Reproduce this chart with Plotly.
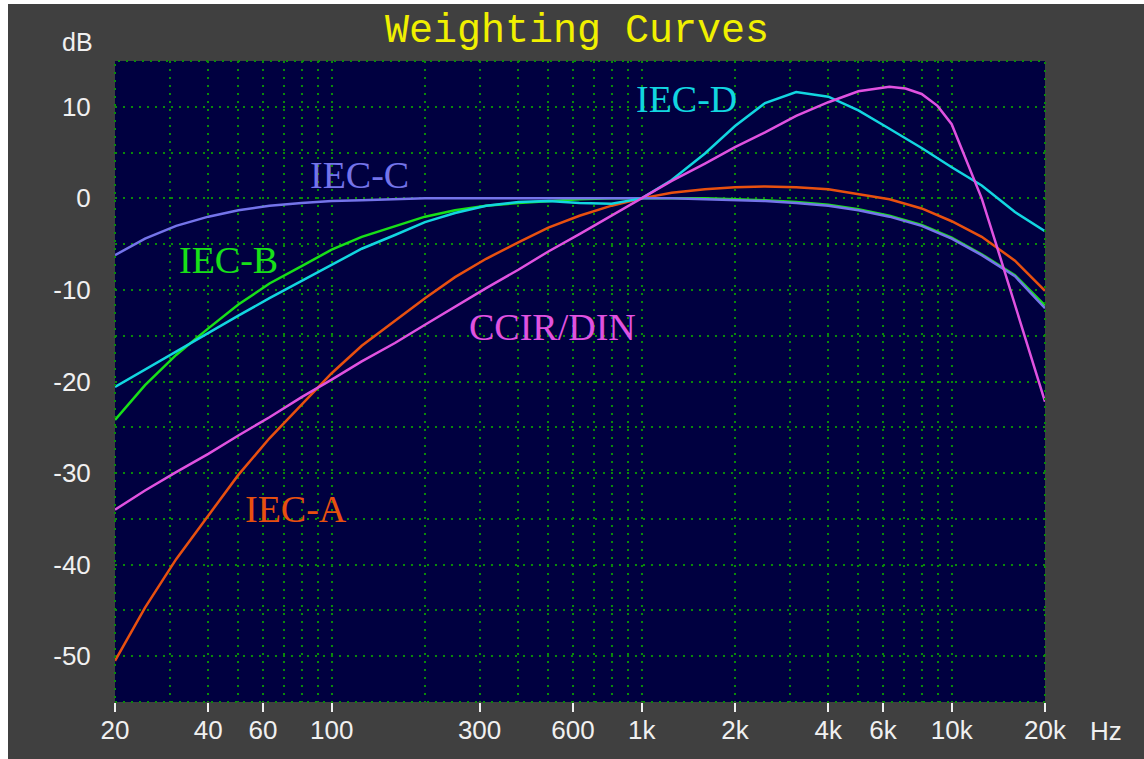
import math
import plotly.graph_objects as go

# ---------------- data ----------------
freq = [20, 25, 31.5, 40, 50, 63, 80, 100, 125, 160, 200, 250, 315, 400, 500,
        630, 800, 1000, 1250, 1600, 2000, 2500, 3150, 4000, 5000, 6300, 8000,
        10000, 12500, 16000, 20000]

iec_a = [-50.5, -44.7, -39.4, -34.6, -30.2, -26.2, -22.5, -19.1, -16.1, -13.4,
         -10.9, -8.6, -6.6, -4.8, -3.2, -1.9, -0.8, 0.0, 0.6, 1.0, 1.2, 1.3,
         1.2, 1.0, 0.5, -0.1, -1.1, -2.5, -4.2, -6.8, -10.1]

iec_b = [-24.2, -20.4, -17.1, -14.2, -11.6, -9.3, -7.4, -5.6, -4.2, -3.0,
         -2.0, -1.3, -0.8, -0.5, -0.3, -0.1, 0.0, 0.0, 0.0, 0.0, -0.1, -0.2,
         -0.4, -0.7, -1.2, -1.9, -2.9, -4.3, -6.1, -8.4, -11.7]

iec_c = [-6.2, -4.4, -3.0, -2.0, -1.3, -0.8, -0.5, -0.3, -0.2, -0.1,
         0.0, 0.0, 0.0, 0.0, 0.0, 0.0, 0.0, 0.0, 0.0, -0.1, -0.2, -0.3,
         -0.5, -0.8, -1.3, -2.0, -3.0, -4.4, -6.2, -8.5, -12.0]

iec_d = [-20.6, -18.7, -16.7, -14.7, -12.8, -10.9, -9.0, -7.2, -5.5, -4.0,
         -2.6, -1.6, -0.8, -0.4, -0.3, -0.5, -0.6, 0.0, 2.0, 4.9, 7.9, 10.4,
         11.6, 11.1, 9.6, 7.6, 5.5, 3.4, 1.4, -1.5, -3.6]

freq_ccir = [20, 25, 31.5, 40, 50, 63, 80, 100, 125, 160, 200, 250, 315, 400,
             500, 630, 800, 1000, 1250, 1600, 2000, 2500, 3150, 4000, 5000,
             6300, 7100, 8000, 9000, 10000, 12500, 14000, 16000, 20000]
ccir_din = [-34.0, -31.9, -29.9, -27.9, -25.9, -23.9, -21.7, -19.8, -17.8,
            -15.8, -13.8, -11.8, -9.8, -7.8, -5.8, -3.9, -1.9, 0.0, 1.9, 3.8,
            5.6, 7.2, 9.0, 10.5, 11.7, 12.2, 12.0, 11.4, 10.1, 8.1, 0.0, -5.3,
            -11.7, -22.2]

x_tick_vals = [20, 40, 60, 100, 300, 600, 1000, 2000, 4000, 6000, 10000, 20000]
x_tick_text = ["20", "40", "60", "100", "300", "600", "1k", "2k", "4k", "6k", "10k", "20k"]
x_minor_vals = [30, 50, 70, 80, 90, 200, 400, 500, 700, 800, 900,
                3000, 5000, 7000, 8000, 9000]
y_tick_vals = [-50, -40, -30, -20, -10, 0, 10]
y_tick_text = ["-50", "-40", "-30", "-20", "-10", "0", "10"]
y_minor_vals = [-45, -35, -25, -15, -5, 5, 15, -55]

series = [
    ("IEC-A", freq, iec_a, "#e8500f"),
    ("IEC-B", freq, iec_b, "#18e018"),
    ("IEC-C", freq, iec_c, "#7474ea"),
    ("IEC-D", freq, iec_d, "#12d6e0"),
    ("CCIR/DIN", freq_ccir, ccir_din, "#e052e0"),
]

# label positions (frequency, dB)
label_pos = {
    "IEC-A": (76.7, -33.9),
    "IEC-B": (46.3, -6.7),
    "IEC-C": (123.4, 2.6),
    "IEC-D": (1390, 10.9),
    "CCIR/DIN": (517, -14.1),
}

fig = go.Figure()
for name, xs, ys, col in series:
    fig.add_trace(go.Scatter(x=xs, y=ys, mode="lines", name=name,
                             line=dict(color=col, width=2.5), showlegend=False))

GRID = "#0a8a0a"
DOT = "2px,6px"
OX, OY = 8, 4                # page offset of the figure (body margin)
W, H = 1144 - OX, 759 - OY
PL, PT, PR, PB = 115, 61, 1045, 702   # plot area in page pixels
L, T = PL - OX, PT - OY
R = W - (PR - OX)
B = H - (PB - OY)
PW, PH = PR - PL, PB - PT

annotations = []
for name, xs, ys, col in series:
    fx, fy = label_pos[name]
    annotations.append(dict(x=math.log10(fx), y=fy, xref="x", yref="y",
                            text=name, showarrow=False,
                            font=dict(family="Liberation Serif", size=38, color=col),
                            xanchor="center", yanchor="middle"))

annotations.append(dict(x=(77 - PL) / PW, y=(PB - 42) / PH, xref="paper", yref="paper",
                        text="dB", showarrow=False,
                        font=dict(family="Liberation Sans", size=25, color="#f0f0f0"),
                        xanchor="center", yanchor="middle"))
annotations.append(dict(x=(1106 - PL) / PW, y=(PB - 731) / PH, xref="paper", yref="paper",
                        text="Hz", showarrow=False,
                        font=dict(family="Liberation Sans", size=26, color="#f0f0f0"),
                        xanchor="center", yanchor="middle"))

shapes = [
    dict(type="rect", xref="paper", yref="paper", x0=0, x1=1, y0=0, y1=1,
         line=dict(color=GRID, width=2, dash=DOT), layer="above"),
]

fig.update_layout(
    width=W, height=H,
    margin=dict(l=L, r=R, t=T, b=B, pad=0),
    paper_bgcolor="#404040",
    plot_bgcolor="#000040",
    title=dict(text="Weighting Curves", x=(577 - OX) / W, y=1 - (28 - OY) / H,
               xanchor="center", yanchor="middle",
               font=dict(family="Liberation Mono", size=40, color="#f0f000")),
    annotations=annotations,
    shapes=shapes,
    xaxis=dict(type="log", range=[math.log10(20), math.log10(20000)],
               tickvals=x_tick_vals, ticktext=x_tick_text,
               ticks="outside", ticklen=9, tickwidth=2, tickcolor="#f0f0f0",
               ticklabelstandoff=-4,
               tickfont=dict(family="Liberation Sans", size=26, color="#f0f0f0"),
               showgrid=True, gridcolor=GRID, gridwidth=2, griddash=DOT,
               minor=dict(tickvals=x_minor_vals, showgrid=True, gridcolor=GRID,
                          gridwidth=2, griddash=DOT, ticks=""),
               zeroline=False, showline=False),
    yaxis=dict(range=[-55, 15],
               tickvals=y_tick_vals, ticktext=y_tick_text,
               ticks="outside", ticklen=18, tickcolor="rgba(0,0,0,0)",
               tickfont=dict(family="Liberation Sans", size=26, color="#f0f0f0"),
               showgrid=True, gridcolor=GRID, gridwidth=2, griddash=DOT,
               minor=dict(tickvals=y_minor_vals, showgrid=True, gridcolor=GRID,
                          gridwidth=2, griddash=DOT, ticks=""),
               zeroline=False, showline=False),
)

fig.write_html(
    "out.html",
    post_script="document.body.style.margin='%dpx 0 0 %dpx';"
                "document.body.style.overflow='hidden';" % (OY, OX),
)
